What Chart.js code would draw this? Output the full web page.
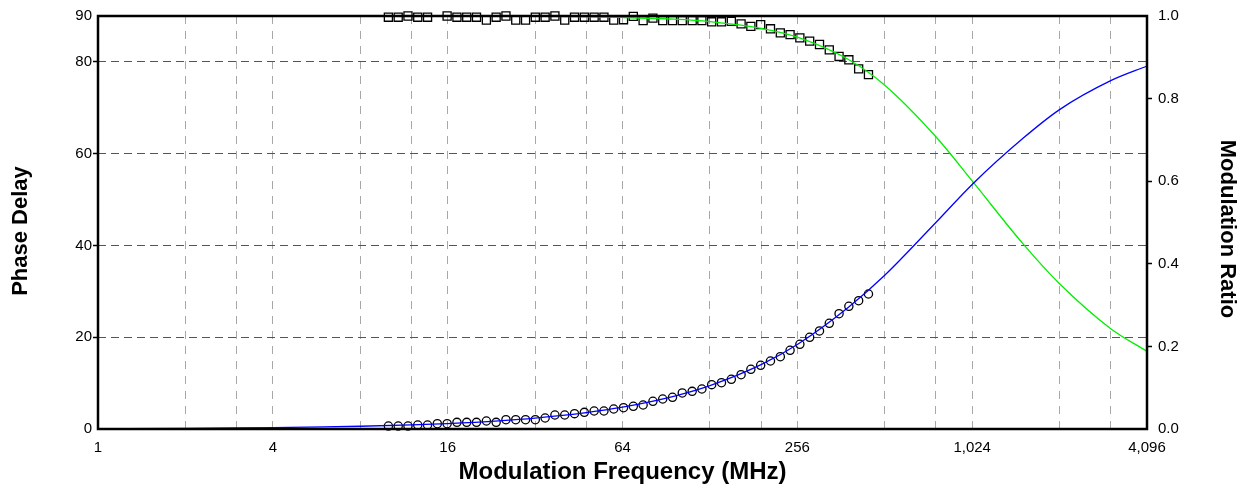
<!DOCTYPE html>
<html><head><meta charset="utf-8">
<script src="https://cdn.jsdelivr.net/npm/chart.js@4.4.0/dist/chart.umd.min.js"></script>
<style>html,body{margin:0;padding:0;background:#fff;}canvas{display:block;}</style>
</head><body>
<canvas id="c" width="1251" height="491"></canvas>
<script>
// Fitted curves
const fitFreq  = [1,2,3,4,6,8,12,16,24,32,48,64,96,128,192,256,384,512,768,1024,1536,2048,3072,4096];
const phaseFit = [0.07,0.15,0.22,0.30,0.45,0.60,0.89,1.19,1.79,2.38,3.57,4.76,7.12,9.45,14.02,18.42,26.54,33.5,45.0,53.3,63.4,69.6,75.9,79.1];
const modFit   = [1.0,1.0,1.0,1.0,1.0,0.9999,0.9999,0.9998,0.9995,0.9991,0.9981,0.9965,0.9923,0.9864,0.9702,0.9488,0.8946,0.8324,0.7075,0.6006,0.4476,0.3515,0.2428,0.188];

// Measured data points
const dataFreq = [10,10.81,11.68,12.62,13.64,14.74,15.93,17.22,18.61,20.11,21.75,23.50,25.40,27.45,29.67,32.06,34.65,37.45,40.48,43.75,47.29,51.11,55.24,59.70,64.52,69.73,75.37,81.46,88.04,95.15,102.8,111.2,120.1,129.8,140.3,151.7,163.9,177.1,191.4,206.9,223.7,241.7,261.2,282.3,305.2,329.8,356.4,385.2,416.3,450];
const phaseData = [0.65,0.65,0.65,0.87,0.87,1.16,1.16,1.45,1.45,1.45,1.74,1.45,2.03,2.03,2.03,2.03,2.4,3.05,3.05,3.34,3.63,3.92,3.92,4.36,4.64,4.95,5.23,6.04,6.54,6.91,7.85,8.21,8.72,9.66,10.09,10.83,11.83,13.01,13.88,14.82,15.76,17.15,18.46,19.98,21.36,23.03,25.13,26.74,27.96,29.42];
const modData = [0.997,0.997,1.0,0.997,0.997,null,1.0,0.997,0.997,0.997,0.990,0.997,1.0,0.990,0.990,0.997,0.997,1.0,0.990,0.997,0.997,0.997,0.997,0.990,0.991,0.999,0.989,0.995,0.989,0.989,0.989,0.989,0.989,0.986,0.986,0.987,0.981,0.975,0.979,0.969,0.959,0.955,0.947,0.939,0.931,0.918,0.902,0.894,0.872,0.858];

// Axis ticks
const xGridTicks  = [1,2,3,4,8,12,16,32,48,64,128,192,256,512,768,1024,2048,3072,4096];
const xLabelTicks = [1,4,16,64,256,1024,4096];
const phaseTicks  = [0,20,40,60,80,90];
const ratioTicks  = [0,0.2,0.4,0.6,0.8,1.0];

const FONT = "'Liberation Sans', Arial, sans-serif";
const pts = (xs, ys) => xs.map((x, i) => ({x: x, y: ys[i]}));

const frame = {
  id: 'frame',
  afterDatasetsDraw(chart) {
    const {ctx, chartArea: a} = chart;
    ctx.save();
    ctx.strokeStyle = '#000'; ctx.lineWidth = 2.5;
    ctx.strokeRect(a.left, a.top, a.right - a.left, a.bottom - a.top);
    ctx.restore();
  },
  afterDraw(chart) {
    const {ctx} = chart;
    ctx.save();
    ctx.fillStyle = '#000';
    ctx.font = "bold 22px " + FONT;
    ctx.textAlign = 'center'; ctx.textBaseline = 'middle';
    ctx.translate(21, 231); ctx.rotate(-Math.PI / 2);
    ctx.fillText('Phase Delay', 0, 0);
    ctx.restore();
    ctx.save();
    ctx.fillStyle = '#000';
    ctx.font = "bold 22px " + FONT;
    ctx.textAlign = 'center'; ctx.textBaseline = 'middle';
    ctx.translate(1227, 229); ctx.rotate(Math.PI / 2);
    ctx.fillText('Modulation Ratio', 0, 0);
    ctx.restore();
  }
};

new Chart(document.getElementById('c'), {
  type: 'scatter',
  data: {
    datasets: [
      { data: pts(fitFreq, phaseFit), yAxisID: 'y', showLine: true, borderColor: '#0000ff', borderWidth: 1.3, pointRadius: 0, cubicInterpolationMode: 'monotone', clip: false },
      { data: pts(fitFreq, modFit), yAxisID: 'y2', showLine: true, borderColor: '#00ee00', borderWidth: 1.3, pointRadius: 0, cubicInterpolationMode: 'monotone', clip: false },
      { data: pts(dataFreq, phaseData), yAxisID: 'y', showLine: false, pointStyle: 'circle', pointRadius: 4.1, borderColor: '#000', borderWidth: 1.3, backgroundColor: 'rgba(0,0,0,0)', clip: false },
      { data: pts(dataFreq, modData), yAxisID: 'y2', showLine: false, pointStyle: 'rect', pointRadius: 5.7, borderColor: '#000', borderWidth: 1.3, backgroundColor: 'rgba(0,0,0,0)', clip: false }
    ]
  },
  options: {
    responsive: false,
    animation: false,
    devicePixelRatio: 1,
    layout: { padding: { top: 16, left: 0, right: 0, bottom: 0 } },
    plugins: { legend: { display: false }, tooltip: { enabled: false } },
    scales: {
      x: {
        type: 'logarithmic', min: 1, max: 4096, position: 'bottom',
        afterBuildTicks: (s) => { s.ticks = xGridTicks.map(v => ({value: v})); },
        afterFit: (s) => { s.height = 62; },
        ticks: {
          autoSkip: false, maxRotation: 0, padding: 10,
          color: '#000', font: { family: FONT, size: 15 },
          callback: (v) => xLabelTicks.includes(v) ? v.toLocaleString('en-US') : ''
        },
        grid: {
          drawTicks: false, lineWidth: 1,
          color: (c) => (c.tick && (c.tick.value === 1 || c.tick.value === 4096)) ? 'rgba(0,0,0,0)' : '#a8a8a8'
        },
        border: { display: false, dash: [8, 7] },
        title: { display: true, text: 'Modulation Frequency (MHz)', color: '#000', font: { family: FONT, size: 24, weight: 'bold' }, padding: { top: 0, bottom: 4 } }
      },
      y: {
        type: 'linear', min: 0, max: 90, position: 'left',
        afterBuildTicks: (s) => { s.ticks = phaseTicks.map(v => ({value: v})); },
        afterFit: (s) => { s.width = 98; },
        ticks: { padding: 1, color: '#000', font: { family: FONT, size: 15 } },
        grid: {
          lineWidth: 1, tickLength: 5, tickWidth: 1.5, tickBorderDash: [],
          color: (c) => (c.tick && (c.tick.value === 0 || c.tick.value === 90)) ? 'rgba(0,0,0,0)' : '#555',
          tickColor: (c) => (c.tick && (c.tick.value === 0 || c.tick.value === 90)) ? 'rgba(0,0,0,0)' : '#000'
        },
        border: { display: false, dash: [8, 5] },
        title: { display: false }
      },
      y2: {
        type: 'linear', min: 0, max: 1, position: 'right',
        afterBuildTicks: (s) => { s.ticks = ratioTicks.map(v => ({value: v})); },
        afterFit: (s) => { s.width = 104; },
        ticks: { padding: 6, color: '#000', font: { family: FONT, size: 15 }, callback: (v) => Number(v).toFixed(1) },
        grid: {
          drawOnChartArea: false, lineWidth: 1, tickLength: 5, tickWidth: 1.5, tickBorderDash: [],
          color: '#000',
          tickColor: (c) => (c.tick && (c.tick.value === 0 || c.tick.value === 1)) ? 'rgba(0,0,0,0)' : '#000'
        },
        border: { display: false },
        title: { display: false }
      }
    }
  },
  plugins: [frame]
});
</script>
</body></html>
